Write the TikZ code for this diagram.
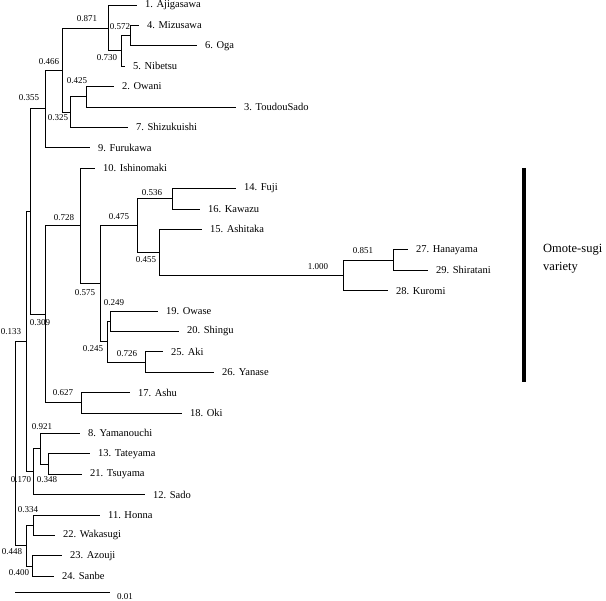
\documentclass[tikz,border=0pt]{standalone}
\usepackage{fontspec}
\setmainfont{Liberation Serif}
\usetikzlibrary{positioning}

\begin{document}
\begin{tikzpicture}[
    x=1pt, y=-1pt,
    leaf/.style={anchor=west, inner xsep=8pt, inner ysep=1pt, font=\fontsize{10.5}{12}\selectfont},
    boot/.style={inner sep=0pt, font=\fontsize{9}{10}\selectfont},
    branch/.style={line width=0.8pt}
]
  \useasboundingbox (0,0) rectangle (606,601);

  % leaves
  \node[leaf] (l1)  at (137,5)     {1. Ajigasawa};
  \node[leaf] (l4)  at (139,25.4)  {4. Mizusawa};
  \node[leaf] (l6)  at (197,45.8)  {6. Oga};
  \node[leaf] (l5)  at (125,66.2)  {5. Nibetsu};
  \node[leaf] (l2)  at (114,86.6)  {2. Owani};
  \node[leaf] (l3)  at (236,107)   {3. ToudouSado};
  \node[leaf] (l7)  at (128,127.4) {7. Shizukuishi};
  \node[leaf] (l9)  at (90,147.8)  {9. Furukawa};
  \node[leaf] (l10) at (95,168.2)  {10. Ishinomaki};
  \node[leaf] (l14) at (236,188.6) {14. Fuji};
  \node[leaf] (l16) at (200,209)   {16. Kawazu};
  \node[leaf] (l15) at (202,229.4) {15. Ashitaka};
  \node[leaf] (l27) at (408,249.8) {27. Hanayama};
  \node[leaf] (l29) at (428,270.2) {29. Shiratani};
  \node[leaf] (l28) at (388,290.6) {28. Kuromi};
  \node[leaf] (l19) at (158,311)   {19. Owase};
  \node[leaf] (l20) at (179,331.4) {20. Shingu};
  \node[leaf] (l25) at (163,351.8) {25. Aki};
  \node[leaf] (l26) at (214,372.2) {26. Yanase};
  \node[leaf] (l17) at (130,392.6) {17. Ashu};
  \node[leaf] (l18) at (182,413)   {18. Oki};
  \node[leaf] (l8)  at (80,433.4)  {8. Yamanouchi};
  \node[leaf] (l13) at (90,453.8)  {13. Tateyama};
  \node[leaf] (l21) at (82,474.2)  {21. Tsuyama};
  \node[leaf] (l12) at (145,494.6) {12. Sado};
  \node[leaf] (l11) at (100,515)   {11. Honna};
  \node[leaf] (l22) at (55,535.4)  {22. Wakasugi};
  \node[leaf] (l23) at (62,555.8)  {23. Azouji};
  \node[leaf] (l24) at (54,576.2)  {24. Sanbe};

  % inner nodes
  \coordinate (nA)  at (130,35.6);
  \coordinate (nB)  at (121,50.9);
  \coordinate (nC)  at (108,28);
  \coordinate (nD)  at (86,96.8);
  \coordinate (nE)  at (70,112.1);
  \coordinate (nF)  at (62,70);
  \coordinate (nG)  at (45,108.9);
  \coordinate (nH)  at (172,198.8);
  \coordinate (nI)  at (393,260);
  \coordinate (nJ)  at (343,275.3);
  \coordinate (nK)  at (159,252.4);
  \coordinate (nL)  at (137,225.6);
  \coordinate (nM)  at (110.5,321.2);
  \coordinate (nN)  at (145,362);
  \coordinate (nO)  at (107.5,341.6);
  \coordinate (nP)  at (100,283.6);
  \coordinate (nQ)  at (80.5,225.9);
  \coordinate (nR)  at (81,402.8);
  \coordinate (nS)  at (45,314.4);
  \coordinate (nT)  at (30,211.6);
  \coordinate (nU)  at (26,341.6);
  \coordinate (nV)  at (33,471.7);
  \coordinate (nW)  at (40,448.7);
  \coordinate (nX)  at (48,464);
  \coordinate (nY)  at (33,525.2);
  \coordinate (nZ)  at (32,566);
  \coordinate (nAA) at (26,545.6);
  \coordinate (root) at (15,443.6);

  \draw[branch] (nA) |- (l4) (nA) |- (l6);
  \draw[branch] (nB) |- (nA) (nB) |- (l5);
  \draw[branch] (nC) |- (l1) (nC) |- (nB);
  \draw[branch] (nD) |- (l2) (nD) |- (l3);
  \draw[branch] (nE) |- (nD) (nE) |- (l7);
  \draw[branch] (nF) |- (nC) (nF) |- (nE);
  \draw[branch] (nG) |- (nF) (nG) |- (l9);
  \draw[branch] (nH) |- (l14) (nH) |- (l16);
  \draw[branch] (nI) |- (l27) (nI) |- (l29);
  \draw[branch] (nJ) |- (nI) (nJ) |- (l28);
  \draw[branch] (nK) |- (l15) (nK) |- (nJ);
  \draw[branch] (nL) |- (nH) (nL) |- (nK);
  \draw[branch] (nM) |- (l19) (nM) |- (l20);
  \draw[branch] (nN) |- (l25) (nN) |- (l26);
  \draw[branch] (nO) |- (nM) (nO) |- (nN);
  \draw[branch] (nP) |- (nL) (nP) |- (nO);
  \draw[branch] (nQ) |- (l10) (nQ) |- (nP);
  \draw[branch] (nR) |- (l17) (nR) |- (l18);
  \draw[branch] (nS) |- (nQ) (nS) |- (nR);
  \draw[branch] (nT) |- (nG) (nT) |- (nS);
  \draw[branch] (nX) |- (l13) (nX) |- (l21);
  \draw[branch] (nW) |- (l8) (nW) |- (nX);
  \draw[branch] (nV) |- (nW) (nV) |- (l12);
  \draw[branch] (nU) |- (nT) (nU) |- (nV);
  \draw[branch] (nY) |- (l11) (nY) |- (l22);
  \draw[branch] (nZ) |- (l23) (nZ) |- (l24);
  \draw[branch] (nAA) |- (nY) (nAA) |- (nZ);
  \draw[branch] (root) |- (nU) (root) |- (nAA);

  % bootstrap values
  \node[boot] (bA)  at (120,27)  {0.572};
  \node[boot] (bB)  at (107,58)  {0.730};
  \node[boot] (bC)  at (87,19)   {0.871};
  \node[boot] (bD)  at (77,81)   {0.425};
  \node[boot] (bE)  at (58,118)  {0.325};
  \node[boot] (bF)  at (49,62)   {0.466};
  \node[boot] (bG)  at (29,98)   {0.355};
  \node[boot] (bH)  at (152,193) {0.536};
  \node[boot] (bI)  at (363,251) {0.851};
  \node[boot] (bJ)  at (318,267) {1.000};
  \node[boot] (bK)  at (146,260) {0.455};
  \node[boot] (bL)  at (119,217) {0.475};
  \node[boot] (bM)  at (114,303) {0.249};
  \node[boot] (bN)  at (127,354) {0.726};
  \node[boot] (bO)  at (93,349)  {0.245};
  \node[boot] (bP)  at (85,293)  {0.575};
  \node[boot] (bQ)  at (64,218)  {0.728};
  \node[boot] (bR)  at (63,393)  {0.627};
  \node[boot] (bS)  at (40,323)  {0.309};
  \node[boot] (bU)  at (11,332)  {0.133};
  \node[boot] (bW)  at (42,427)  {0.921};
  \node[boot] (bV)  at (21,480)  {0.170};
  \node[boot] (bX)  at (47,480)  {0.348};
  \node[boot] (bY)  at (28,510)  {0.334};
  \node[boot] (bAA) at (12,552)  {0.448};
  \node[boot] (bZ)  at (19,573)  {0.400};

  % group bar
  \coordinate (bartop) at (524,168);
  \coordinate (barbot) at (524,382);
  \draw[line width=3.5pt] (bartop) -- (barbot);
  \node[anchor=west, align=left, inner sep=0pt, font=\fontsize{12.5}{18}\selectfont] (omote) at (543,259) {Omote-sugi\\variety};

  % scale
  \coordinate (sc0) at (15,592);
  \coordinate (sc1) at (110,592);
  \draw[branch] (sc0) -- (sc1);
  \node[boot] (sclab) at (125,597) {0.01};
\end{tikzpicture}
\end{document}
